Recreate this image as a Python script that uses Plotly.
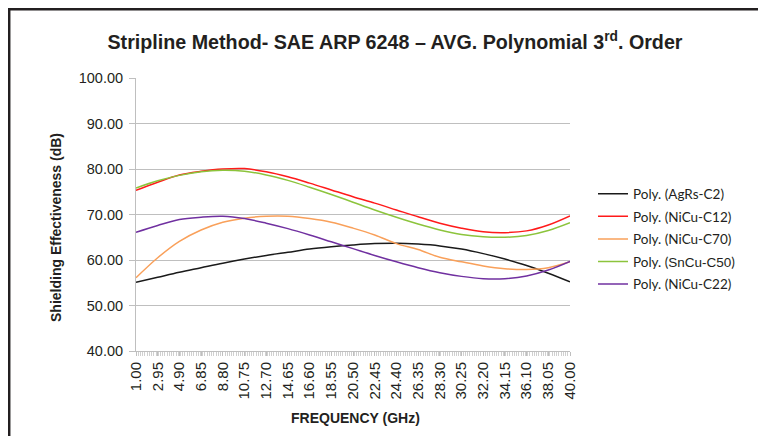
import plotly.graph_objects as go

tick_labels = ["1.00", "2.95", "4.90", "6.85", "8.80", "10.75", "12.70", "14.65", "16.60",
               "18.55", "20.50", "22.45", "24.40", "26.35", "28.30", "30.25", "32.20",
               "34.15", "36.10", "38.05", "40.00"]
freq = [float(t) for t in tick_labels]

agrs_c2 = [55.1, 56.2, 57.3, 58.3, 59.3, 60.2, 61.0, 61.7, 62.4, 62.9, 63.3,
           63.6, 63.7, 63.5, 63.1, 62.4, 61.4, 60.2, 58.8, 57.1, 55.2]
nicu_c12 = [75.3, 77.1, 78.7, 79.5, 80.0, 80.1, 79.4, 78.3, 76.9, 75.4, 73.9,
            72.5, 71.0, 69.5, 68.1, 67.0, 66.2, 66.0, 66.4, 67.7, 69.7]
nicu_c70 = [56.1, 60.5, 64.1, 66.6, 68.3, 69.2, 69.6, 69.6, 69.1, 68.3, 67.0,
            65.5, 63.6, 62.3, 60.6, 59.6, 58.7, 58.1, 57.9, 58.3, 59.6]
sncu_c50 = [75.8, 77.4, 78.6, 79.4, 79.7, 79.5, 78.7, 77.5, 76.0, 74.4, 72.7,
            71.0, 69.4, 67.9, 66.6, 65.6, 65.1, 65.0, 65.4, 66.5, 68.2]
nicu_c22 = [66.1, 67.6, 68.9, 69.4, 69.6, 69.1, 68.1, 66.9, 65.5, 64.0, 62.5,
            61.0, 59.6, 58.3, 57.2, 56.4, 55.9, 55.9, 56.5, 57.8, 59.7]

series_names = ["Poly. (AgRs-C2)", "Poly. (NiCu-C12)", "Poly. (NiCu-C70)",
                "Poly. (<span style='font-family:Liberation Sans'>SnCu-C50</span>)",
                "Poly. (NiCu-C22)"]
series_values = [agrs_c2, nicu_c12, nicu_c70, sncu_c50, nicu_c22]
series_colors = ["#1a1a1a", "#ff1a1a", "#f9a05a", "#8cc43c", "#7030a0"]

y_ticks = [40, 50, 60, 70, 80, 90, 100]

FONT = "Liberation Sans, Arial, sans-serif"
DARK = "#231f20"

# the page has an 8px body margin, so the figure is placed 8px in from the top-left
W, H = 758, 428
L, R, T, B = 128, 196, 70, 85
PW, PH = W - L - R, H - T - B


def px(xf):
    return (xf - L) / PW


def py(yf):
    return (H - B - yf) / PH


fig = go.Figure()
for i, (name, vals, col) in enumerate(zip(series_names, series_values, series_colors)):
    fig.add_trace(go.Scatter(
        x=freq, y=vals, name=name, mode="lines",
        line=dict(color=col, width=1.5, shape="spline", smoothing=1.0),
        legendgroup=f"g{i}",
    ))

fig.update_layout(
    width=W, height=H,
    margin=dict(l=L, r=R, t=T, b=B),
    paper_bgcolor="white", plot_bgcolor="white",
    title=dict(text="Stripline Method- SAE ARP 6248 – AVG. Polynomial 3<sup>rd</sup>. Order",
               font=dict(family=FONT, size=19.7, color=DARK, weight="bold"),
               x=387 / W, xanchor="center", y=1 - 34 / H, yanchor="middle"),
    showlegend=True,
    legend=dict(x=px(585), xanchor="left", y=py(231), yanchor="middle",
                font=dict(family="Lato, Open Sans, sans-serif", size=13.5, color=DARK),
                tracegroupgap=2, itemwidth=30, bgcolor="rgba(0,0,0,0)"),
    xaxis=dict(range=[1, 40], tickmode="array", tickvals=freq, ticktext=tick_labels,
               tickangle=-90, tickfont=dict(family=FONT, size=15, color=DARK),
               showgrid=False, showline=True, linecolor="#bfbfbf", linewidth=1,
               ticks="outside", ticklen=4, tickcolor="#bfbfbf",
               minor=dict(dtick=0.2, ticks="outside", ticklen=4, tickcolor="#d0d0d0", showgrid=False),
               zeroline=False),
    yaxis=dict(range=[40, 100], tickvals=y_ticks, tickformat=".2f",
               tickfont=dict(family=FONT, size=14.5, color=DARK),
               showgrid=True, gridcolor="#bfbfbf", gridwidth=1,
               showline=True, linecolor="#bfbfbf", linewidth=1,
               ticks="outside", ticklen=6, tickcolor="#bfbfbf", zeroline=False,
               ticklabelstandoff=3),
    annotations=[
        dict(text="<b>Shielding Effectiveness (dB)</b>", xref="paper", yref="paper",
             x=px(48), y=py(220), xanchor="center", yanchor="middle", textangle=-90,
             showarrow=False, font=dict(family=FONT, size=14, color=DARK)),
        dict(text="<b>FREQUENCY (GHz)</b>", xref="paper", yref="paper",
             x=px(347), y=py(410), xanchor="center", yanchor="middle",
             showarrow=False, font=dict(family=FONT, size=14, color=DARK)),
    ],
    shapes=[
        dict(type="line", xref="paper", yref="paper", x0=px(0), x1=px(W),
             y0=py(1.2), y1=py(1.2), line=dict(color=DARK, width=2.5)),
        dict(type="line", xref="paper", yref="paper", x0=px(1.2), x1=px(1.2),
             y0=py(0), y1=py(H), line=dict(color=DARK, width=2.5)),
    ],
)

fig.write_html("out.html")
